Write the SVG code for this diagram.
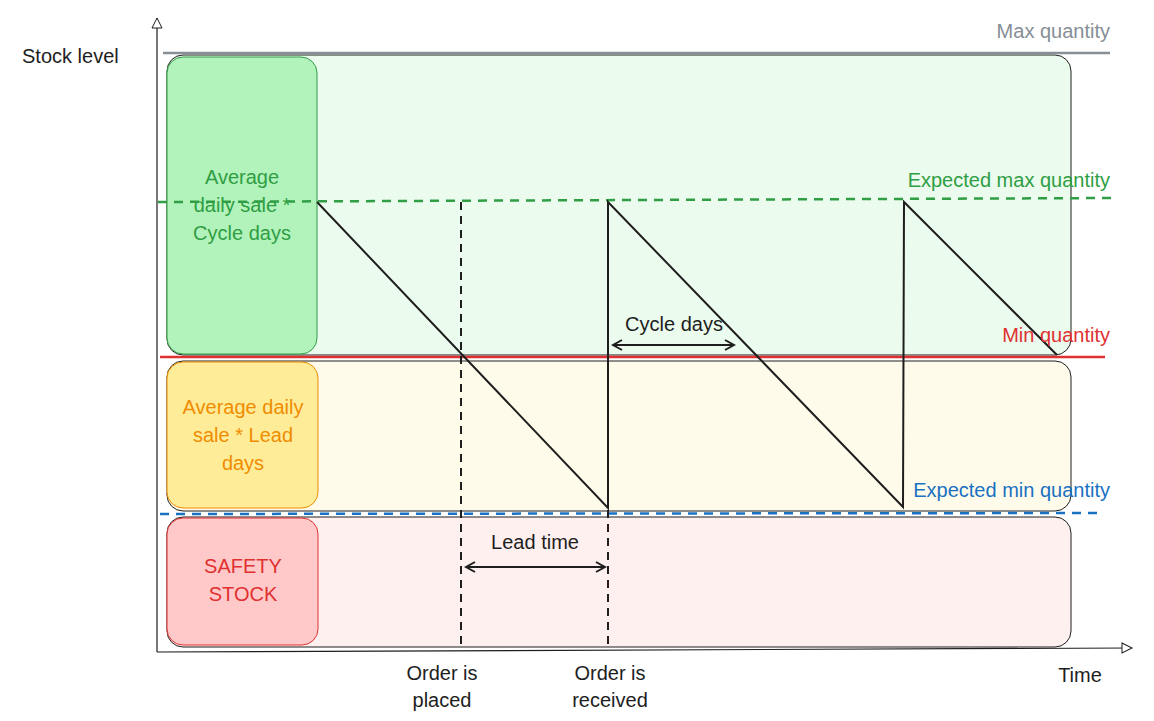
<svg xmlns="http://www.w3.org/2000/svg" width="1154" height="721" viewBox="0 0 1154 721">
<style>
text{font-family:"Liberation Sans",Arial,sans-serif;font-size:20px}
.big{stroke:#1e1e1e;stroke-width:1}
.ax{stroke:#1e1e1e;stroke-width:1.2;fill:none}
.saw{stroke:#1e1e1e;stroke-width:2;fill:none}
.dv{stroke:#1e1e1e;stroke-width:2;stroke-dasharray:8 6}
.arr{stroke:#1e1e1e;stroke-width:2;marker-start:url(#a2);marker-end:url(#a1)}
</style>
<defs>
<marker id="a1" markerWidth="12" markerHeight="12" refX="10" refY="6" orient="auto" markerUnits="userSpaceOnUse"><path d="M1,1 L10,6 L1,11" fill="none" stroke="#1e1e1e" stroke-width="2"/></marker>
<marker id="a2" markerWidth="12" markerHeight="12" refX="2" refY="6" orient="auto" markerUnits="userSpaceOnUse"><path d="M11,1 L2,6 L11,11" fill="none" stroke="#1e1e1e" stroke-width="2"/></marker>
<marker id="ax" markerWidth="14" markerHeight="14" refX="11" refY="6" orient="auto" markerUnits="userSpaceOnUse"><path d="M1,1 L11,6 L1,11 Z" fill="#fff" stroke="#1e1e1e" stroke-width="1"/></marker>
</defs>
<g id="zones">
<rect class="big" x="167" y="55" width="904" height="300" rx="16" fill="#ebfbee"/>
<rect class="big" x="167" y="361" width="904" height="150" rx="16" fill="#fffbeb"/>
<rect class="big" x="167" y="517" width="904" height="130" rx="16" fill="#fff0f0"/>
</g>
<g id="labels-boxes">
<g id="cycle-box"><rect x="167" y="57" width="150" height="297" rx="16" fill="#b2f2bb" stroke="#2f9e44"/>
<text fill="#2f9e44" text-anchor="middle"><tspan x="242" y="184">Average</tspan><tspan x="242" y="212">daily sale *</tspan><tspan x="242" y="240">Cycle days</tspan></text></g>
<g id="lead-box"><rect x="167" y="362" width="151" height="146" rx="16" fill="#ffec99" stroke="#f08c00"/>
<text fill="#f08c00" text-anchor="middle"><tspan x="243" y="414">Average daily</tspan><tspan x="243" y="442">sale * Lead</tspan><tspan x="243" y="470">days</tspan></text></g>
<g id="safety-box"><rect x="167" y="518" width="151" height="127" rx="16" fill="#ffc9c9" stroke="#e03131"/>
<text fill="#e03131" text-anchor="middle"><tspan x="243" y="573">SAFETY</tspan><tspan x="243" y="601">STOCK</tspan></text></g>
</g>
<g id="connectors">
<line class="ax" x1="157" y1="652" x2="157" y2="18" marker-end="url(#ax)"/>
<line class="ax" x1="157" y1="652" x2="1132" y2="648" marker-end="url(#ax)"/>
<line x1="163" y1="53" x2="1110" y2="53" stroke="#868e96" stroke-width="2.5"/>
<line x1="158" y1="202" x2="1114" y2="198" stroke="#2f9e44" stroke-width="2.5" stroke-dasharray="9 7"/>
<line x1="160" y1="357" x2="1105" y2="357" stroke="#e03131" stroke-width="2.5"/>
<line x1="160" y1="514" x2="1104" y2="513" stroke="#1971c2" stroke-width="2.5" stroke-dasharray="9 7"/>
<polyline class="saw" points="317,202 608,508 608,202 903,507 904,202 1057,355"/>
<line class="dv" x1="461" y1="202" x2="461" y2="648"/>
<line class="dv" x1="608" y1="510" x2="608" y2="648"/>
<line class="arr" x1="466" y1="567" x2="605" y2="567"/>
<line class="arr" x1="613" y1="345" x2="734" y2="345"/>
</g>
<g id="texts">
<text x="22" y="63" fill="#1e1e1e">Stock level</text>
<text x="1110" y="38" fill="#868e96" text-anchor="end">Max quantity</text>
<text x="1110" y="187" fill="#2f9e44" text-anchor="end">Expected max quantity</text>
<text x="1110" y="342" fill="#e03131" text-anchor="end">Min quantity</text>
<text x="1110" y="497" fill="#1971c2" text-anchor="end">Expected min quantity</text>
<text x="535" y="549" font-size="16" text-anchor="middle" fill="#1e1e1e">Lead time</text>
<text x="674" y="331" font-size="16" text-anchor="middle" fill="#1e1e1e">Cycle days</text>
<text text-anchor="middle" fill="#1e1e1e"><tspan x="442" y="680">Order is</tspan><tspan x="442" y="707">placed</tspan></text>
<text text-anchor="middle" fill="#1e1e1e"><tspan x="610" y="680">Order is</tspan><tspan x="610" y="707">received</tspan></text>
<text x="1080" y="682" text-anchor="middle" fill="#1e1e1e">Time</text>
</g>
</svg>
